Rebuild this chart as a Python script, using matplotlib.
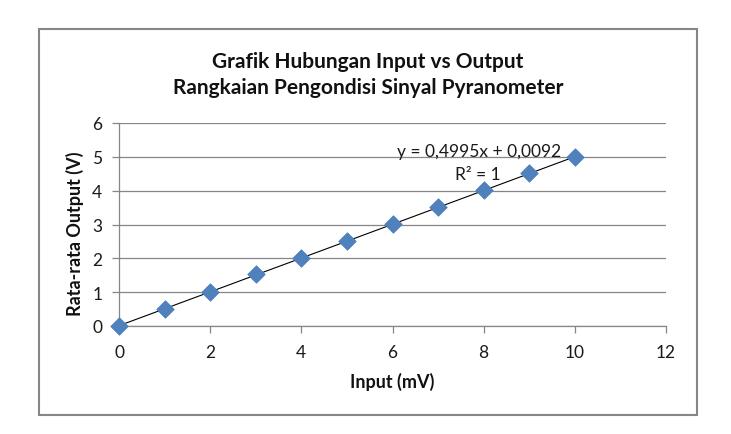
import matplotlib
matplotlib.use("Agg")
import matplotlib.pyplot as plt
from matplotlib.patches import Rectangle

x_input = [0, 1, 2, 3, 4, 5, 6, 7, 8, 9, 10]
y_output = [0.01, 0.51, 1.01, 1.55, 2.02, 2.51, 3.02, 3.52, 4.01, 4.52, 4.99]
slope = 0.4995
intercept = 0.0092
title_lines = ["Grafik Hubungan Input vs Output", "Rangkaian Pengondisi Sinyal Pyranometer"]
xlabel = "Input (mV)"
ylabel = "Rata-rata Output (V)"
eq_text = "y = 0,4995x + 0,0092"
r2_text = "R² = 1"

plt.rcParams['font.family'] = ['Lato', 'DejaVu Sans']

W, H = 731, 435
fig = plt.figure(figsize=(W/100, H/100), dpi=100)
fig.patch.set_facecolor('white')

# chart border
fig.patches.append(Rectangle((39/W, 1-416/H), (697-39)/W, (416-30)/H, transform=fig.transFigure,
                             fill=False, edgecolor='#868686', linewidth=1.5))

ax = fig.add_axes([119/W, 1-327/H, (666-119)/W, (327-124)/H])
ax.set_xlim(0, 12)
ax.set_ylim(0, 6)
ax.set_xticks(range(0, 13, 2))
ax.set_yticks(range(0, 7))
ax.grid(axis='y', color='#868686', linewidth=0.9)
ax.set_axisbelow(True)
for s in ['top', 'right']:
    ax.spines[s].set_visible(False)
for s in ['left', 'bottom']:
    ax.spines[s].set_color('#868686')
    ax.spines[s].set_linewidth(0.9)
ax.tick_params(axis='both', colors='#868686', labelcolor='#1a1a1a', labelsize=12.5, length=5, width=0.9)
ax.tick_params(axis='x', pad=8)
ax.tick_params(axis='y', pad=7)

xs = [x_input[0], x_input[-1]]
ax.plot(xs, [slope*v + intercept for v in xs], color='black', linewidth=0.8, zorder=3)
ax.scatter(x_input, y_output, marker='D', s=80, color='#4F81BD', edgecolors='#4A7EBB', linewidths=0.5, zorder=4, clip_on=False)

ax.text(7.9, 5.17, eq_text, fontsize=12.5, ha='center', va='center', color='#1a1a1a', zorder=5)
ax.text(7.87, 4.5, r2_text, fontsize=12.5, ha='center', va='center', color='#1a1a1a', zorder=5)

fig.text(368/W, 1-62/H, title_lines[0], ha='center', va='center', fontsize=15, fontweight='bold', color='#111111')
fig.text(368/W, 1-88/H, title_lines[1], ha='center', va='center', fontsize=15, fontweight='bold', color='#111111')
fig.text(392/W, 1-382/H, xlabel, ha='center', va='center', fontsize=13, fontweight='bold', color='#111111')
fig.text(75/W, 1-234/H, ylabel, ha='center', va='center', rotation=90, fontsize=13, fontweight='bold', color='#111111')

fig.savefig('out.png', dpi=100)
